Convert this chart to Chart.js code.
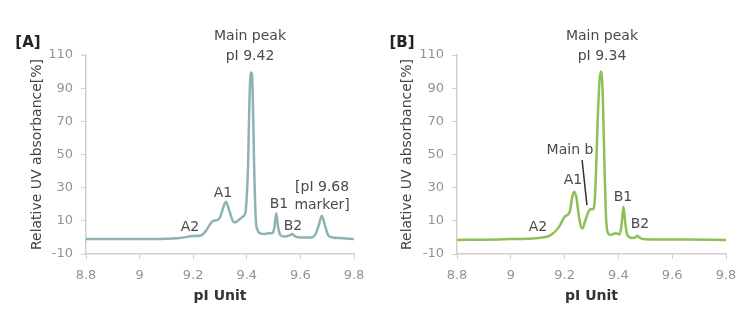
<!DOCTYPE html>
<html>
<head>
<meta charset="utf-8">
<script src="https://cdn.jsdelivr.net/npm/chart.js@4.4.1/dist/chart.umd.min.js"></script>
<style>
  body { margin: 0; background: #fff; }
  .wrap { display: flex; width: 750px; height: 325px; }
  .panel { width: 375px; height: 325px; }
</style>
</head>
<body>
<div class="wrap">
  <div class="panel"><canvas id="chartA" width="375" height="325"></canvas></div>
  <div class="panel"><canvas id="chartB" width="375" height="325"></canvas></div>
</div>
<script>
// axis ticks
const xTicks = [8.8, 9, 9.2, 9.4, 9.6, 9.8];
const yTicks = [-10, 10, 30, 50, 70, 90, 110];

// trace A (pI, relative absorbance %)
const aX = [8.80, 8.90, 9.00, 9.10, 9.15, 9.20, 9.23, 9.25, 9.27, 9.29, 9.30, 9.31, 9.322, 9.335, 9.345, 9.355, 9.37, 9.385, 9.395,
  9.40, 9.405, 9.41, 9.415, 9.419, 9.423, 9.427, 9.433, 9.44, 9.45, 9.465, 9.48, 9.495, 9.503, 9.51, 9.517, 9.525, 9.54,
  9.56, 9.57, 9.58, 9.60, 9.64, 9.655, 9.668, 9.68, 9.692, 9.705, 9.72, 9.76, 9.80];
const aY = [-1, -1, -1, -0.8, -0.4, 0.8, 1.2, 4.5, 9.5, 10.5, 12, 17, 21.5, 16, 11, 9, 10.5, 12.5, 15,
  25, 45, 83, 99.5, 99, 80, 46, 12.5, 4.5, 2.5, 2, 2.5, 2.5, 6, 14.5, 6, 1.5, 0.5,
  1.2, 2, 0.6, 0, 0, 1.5, 7, 13, 7, 1, 0, -0.5, -1];

// trace B
const bX = [8.80, 8.90, 9.00, 9.05, 9.10, 9.15, 9.18, 9.20, 9.21, 9.22, 9.228, 9.236, 9.244, 9.252, 9.26, 9.267, 9.275, 9.285,
  9.295, 9.305, 9.312, 9.318, 9.324, 9.33, 9.336, 9.342, 9.348, 9.354, 9.36, 9.37, 9.39, 9.405, 9.412, 9.419, 9.426, 9.433,
  9.45, 9.463, 9.47, 9.478, 9.49, 9.55, 9.65, 9.80];
const bY = [-1.5, -1.4, -1, -0.9, -0.4, 1.5, 6.5, 12.5, 13.5, 16, 24, 27.6, 24, 14, 7, 5.5, 9, 14,
  17, 17, 22, 45, 75, 95, 100, 85, 45, 12.5, 3, 1.5, 2.5, 1.8, 8, 18.5, 8, 1.5,
  -0.3, 0, 1, 0, -1, -1.3, -1.3, -1.5];

// peak labels: text, pI, value
const labelsA = [
  ['Main peak', 9.412, 121.5], ['pI 9.42', 9.412, 109.4],
  ['A2', 9.188, 6.3], ['A1', 9.311, 26.8],
  ['B1', 9.52, 20.1], ['B2', 9.572, 6.9],
  ['[pI 9.68', 9.681, 30.4], ['marker]', 9.681, 19.5]
];
const labelsB = [
  ['Main peak', 9.339, 121.5], ['pI 9.34', 9.339, 109.4],
  ['A2', 9.101, 6.3], ['A1', 9.231, 34.6], ['Main b', 9.22, 52.7],
  ['B1', 9.417, 24.4], ['B2', 9.48, 8.1]
];
const leaderB = [[9.265, 46.7], [9.283, 19.5]];

const FONT = "'DejaVu Sans', sans-serif";

const peakLabels = {
  id: 'peakLabels',
  afterDatasetsDraw(chart, args, opts) {
    const ctx = chart.ctx;
    const xs = chart.scales.x, ys = chart.scales.y;
    ctx.save();
    ctx.fillStyle = '#4a4a4a';
    ctx.font = '14px ' + FONT;
    ctx.textAlign = 'center';
    ctx.textBaseline = 'middle';
    opts.items.forEach(([t, px, py]) => {
      ctx.fillText(t, xs.getPixelForValue(px), ys.getPixelForValue(py));
    });
    if (opts.leader) {
      ctx.strokeStyle = '#333';
      ctx.lineWidth = 1.5;
      ctx.beginPath();
      ctx.moveTo(xs.getPixelForValue(opts.leader[0][0]), ys.getPixelForValue(opts.leader[0][1]));
      ctx.lineTo(xs.getPixelForValue(opts.leader[1][0]), ys.getPixelForValue(opts.leader[1][1]));
      ctx.stroke();
    }
    ctx.font = 'bold 15px ' + FONT;
    ctx.fillStyle = '#222';
    ctx.fillText(opts.tag, opts.tagX, 43);
    ctx.restore();
  }
};

function makeChart(id, xs, ys, color, items, leader, tag, tagX, yWidth, rightPad, titlePad) {
  const pts = xs.map((x, i) => ({ x: x, y: ys[i] }));
  return new Chart(document.getElementById(id), {
    type: 'line',
    data: {
      datasets: [{
        data: pts,
        borderColor: color,
        borderWidth: 2.5,
        pointRadius: 0,
        cubicInterpolationMode: 'monotone',
        fill: false
      }]
    },
    options: {
      responsive: false,
      devicePixelRatio: 1,
      animation: false,
      layout: { padding: { left: 0, right: rightPad, top: 55, bottom: 0 } },
      plugins: {
        legend: { display: false },
        tooltip: { enabled: false },
        peakLabels: { items: items, leader: leader, tag: tag, tagX: tagX }
      },
      scales: {
        x: {
          type: 'linear',
          min: 8.8,
          max: 9.8,
          afterBuildTicks: s => { s.ticks = xTicks.map(v => ({ value: v })); },
          afterFit: s => { s.height = 71; },
          grid: { drawOnChartArea: false, drawTicks: true, tickLength: 5, color: '#cfcfcf' },
          border: { color: '#cfcfcf', width: 1.5 },
          ticks: {
            color: '#939393',
            font: { family: FONT, size: 13 },
            padding: 9,
            maxRotation: 0,
            callback: v => String(+v.toFixed(1))
          },
          title: {
            display: true,
            text: 'pI Unit',
            color: '#333',
            font: { family: FONT, size: 14, weight: 'bold' },
            padding: { top: 0, bottom: 20 }
          }
        },
        y: {
          min: -10,
          max: 110,
          afterBuildTicks: s => { s.ticks = yTicks.map(v => ({ value: v })); },
          afterFit: s => { s.width = yWidth; },
          grid: { drawOnChartArea: false, drawTicks: true, tickLength: 5, color: '#cfcfcf' },
          border: { color: '#cfcfcf', width: 1.5 },
          ticks: {
            color: '#939393',
            font: { family: FONT, size: 13 },
            padding: 8
          },
          title: {
            display: true,
            text: 'Relative UV absorbance[%]',
            color: '#444',
            font: { family: FONT, size: 14 },
            padding: { top: titlePad, bottom: 0 }
          }
        }
      }
    },
    plugins: [peakLabels]
  });
}

makeChart('chartA', aX, aY, '#8fb2b5', labelsA, null, '[A]', 28, 86, 21, 28.5);
makeChart('chartB', bX, bY, '#8dc05a', labelsB, leaderB, '[B]', 27, 82, 24, 23.5);
</script>
</body>
</html>
